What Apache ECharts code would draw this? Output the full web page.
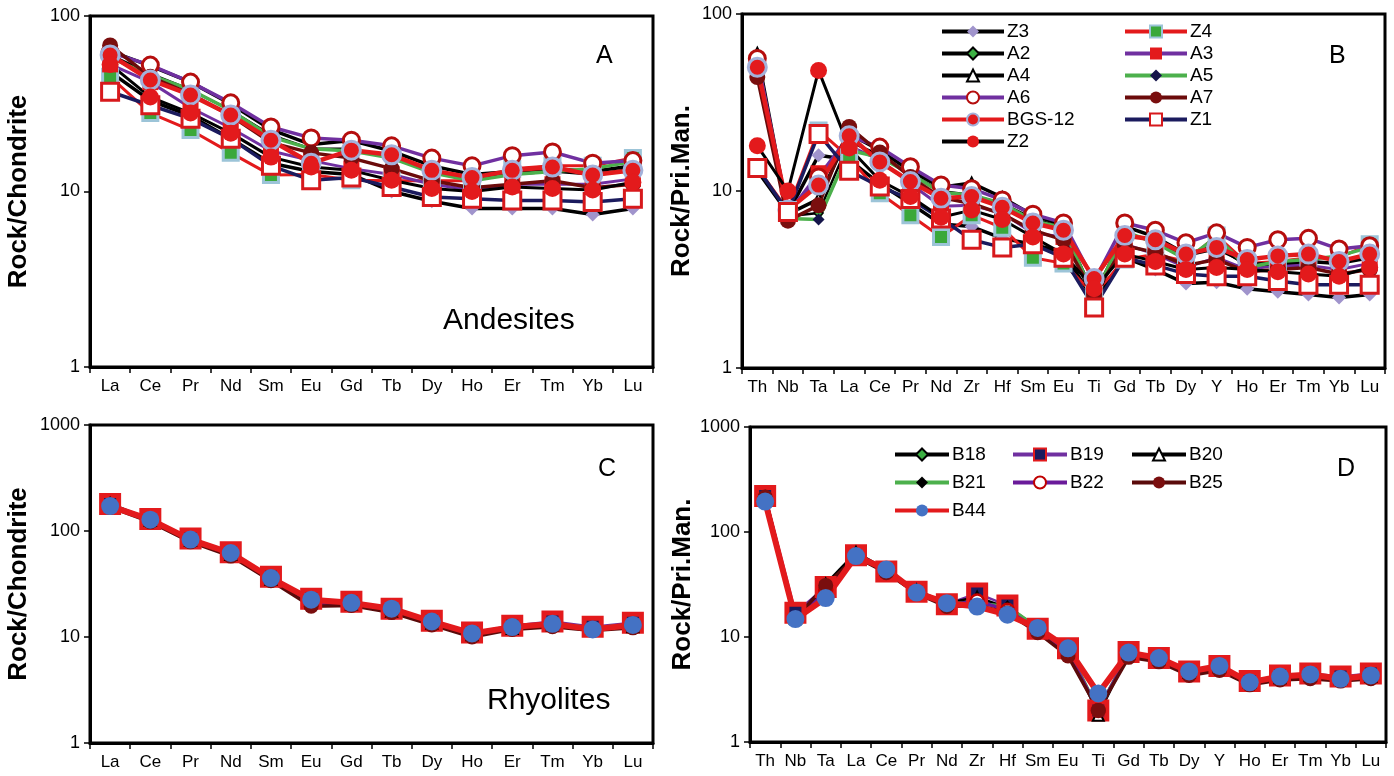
<!DOCTYPE html>
<html>
<head>
<meta charset="utf-8">
<title>REE and spider diagrams</title>
<script src="https://cdn.jsdelivr.net/npm/echarts@6/dist/echarts.min.js"></script>
<style>
    html, body { margin: 0; padding: 0; background: #fff; }
    #chart { width: 1394px; height: 776px; }
</style>
</head>
<body>
<div id="chart"></div>
<script>
// Categories
// ------------------------------

var reeElements = ['La', 'Ce', 'Pr', 'Nd', 'Sm', 'Eu', 'Gd', 'Tb', 'Dy', 'Ho', 'Er', 'Tm', 'Yb', 'Lu'];
var spiderElements = ['Th', 'Nb', 'Ta', 'La', 'Ce', 'Pr', 'Nd', 'Zr', 'Hf', 'Sm', 'Eu', 'Ti', 'Gd', 'Tb', 'Dy', 'Y', 'Ho', 'Er', 'Tm', 'Yb', 'Lu'];

var andesiteNames = ['Z3', 'Z4', 'A2', 'A3', 'A4', 'A5', 'A6', 'A7', 'BGS-12', 'Z1', 'Z2'];
var rhyoliteNames = ['B18', 'B19', 'B20', 'B21', 'B22', 'B25', 'B44'];

var chondriteTicks = [1, 10, 100];
var mantleTicks = [1, 10, 100, 1000];


// Panel A - andesites, chondrite normalised
// ------------------------------

var reeZ3 = [48, 33, 27, 20, 14.5, 13, 12.5, 10, 8.8, 8.0, 8.0, 8.0, 7.4, 8.0];
var reeZ4 = [45, 28, 22.4, 16.6, 12.4, 12.5, 11.6, 11.5, 11.5, 11.5, 13.5, 14, 14, 15.5];
var reeA2 = [60, 47, 38, 29, 21, 17.5, 17.5, 15.5, 13, 12, 12.5, 13, 12.5, 13.5];
var reeA3 = [53, 42, 30, 23, 17, 15, 13.5, 12.5, 11, 10.2, 11, 11, 11, 11.8];
var reeA4 = [63, 52, 42, 31.5, 22.5, 18.5, 19.5, 17, 14, 12.5, 13, 13.5, 13, 14];
var reeA5 = [58, 46, 38, 29, 20.5, 17.5, 17, 15.5, 12.8, 11.5, 12.5, 13, 13.5, 14.8];
var reeA6 = [62, 52.5, 42, 32, 23.3, 20.2, 19.6, 18.2, 15.5, 14, 16, 16.8, 14.5, 15];
var reeA7 = [68, 45, 36, 27, 19, 16.6, 15.5, 13.5, 11.5, 10.5, 11, 11.5, 10.5, 11];
var reeBGS12 = [60, 43.2, 35.5, 27.3, 19.6, 14.5, 17.2, 16.2, 13.2, 12, 13.2, 13.8, 12.4, 13.2];
var reeZ1 = [37, 31, 26, 20, 14, 11.6, 12, 10.6, 9.3, 9.1, 8.9, 8.9, 8.7, 9.1];
var reeZ2 = [53, 34.5, 28, 21.5, 15.7, 13.8, 13.2, 11.6, 10.4, 10, 10.6, 10.4, 10.2, 11.3];

// Panel B - andesites, primitive mantle normalised
// ------------------------------

var pmZ3 = [13, 7.5, 15.9, 15, 11, 8.5, 6.5, 6.3, 5.4, 5.0, 4.5, 2.4, 4.2, 3.6, 3.0, 3.05, 2.8, 2.7, 2.6, 2.5, 2.6];
var pmZ4 = [13.5, 7.8, 22, 15.5, 9.7, 7.3, 5.5, 7.3, 6.2, 4.2, 3.9, 2.6, 4.1, 4.4, 4.0, 5.6, 3.9, 4.0, 4.2, 4.2, 5.0];
var pmA2 = [58, 7.2, 7.5, 19, 16, 12.5, 10, 9.5, 8.5, 7, 6.2, 2.6, 5.8, 5.2, 4.3, 4.7, 3.9, 3.9, 4.0, 3.9, 4.3];
var pmA3 = [52, 7.5, 12.6, 18, 15, 11, 8.2, 8.3, 7.5, 5.8, 5.5, 2.7, 5.0, 4.4, 3.7, 4.2, 3.6, 3.8, 3.8, 3.6, 3.9];
var pmA4 = [60, 7.4, 9, 21, 17, 13, 10.5, 11.1, 9.2, 7.3, 6.4, 2.3, 6.3, 5.5, 4.4, 4.9, 3.8, 3.9, 4.0, 3.9, 4.2];
var pmA5 = [55, 7.0, 6.9, 17, 15.5, 12.5, 9.8, 9.5, 8.5, 6.8, 6.2, 2.5, 5.9, 5.1, 4.1, 5.5, 3.7, 4.0, 4.1, 4.3, 4.8];
var pmA6 = [56, 7.5, 12, 20.5, 17.7, 13.7, 10.8, 10.3, 8.9, 7.4, 6.6, 3.1, 6.6, 6.0, 5.1, 5.8, 4.8, 5.3, 5.4, 4.7, 4.9];
var pmA7 = [44, 6.8, 8.3, 23, 16.5, 12, 9.2, 8.5, 7.4, 6.0, 5.3, 2.6, 4.9, 4.5, 3.8, 4.1, 3.5, 3.6, 3.7, 3.4, 3.6];
var pmBGS12 = [50, 7.8, 10.8, 20.5, 14.6, 11.3, 9.1, 9.3, 8.1, 6.6, 6.0, 3.2, 5.6, 5.3, 4.4, 4.8, 4.1, 4.3, 4.4, 4.0, 4.4];
var pmZ1 = [13.5, 7.6, 21, 13, 10.6, 9, 7, 5.3, 4.8, 5.0, 4.2, 2.2, 4.2, 3.8, 3.4, 3.3, 3.3, 3.1, 2.95, 2.95, 2.95];
var pmZ2 = [18, 10, 48, 17.5, 11.5, 9.3, 7.1, 7.8, 6.9, 5.5, 4.4, 2.8, 4.4, 4.0, 3.6, 3.7, 3.6, 3.5, 3.4, 3.3, 3.7];

// Panel C - rhyolites, chondrite normalised
// ------------------------------

var reeB18 = [178, 128, 84, 62, 37, 22, 21, 18, 13.8, 10.5, 12.2, 13.2, 12, 12.8];
var reeB19 = [180, 130, 85, 63, 37, 23, 21.5, 18.5, 14.2, 11, 12.8, 14, 12.5, 13.6];
var reeB20 = [182, 126, 82, 60, 35, 21, 20.5, 17.5, 13.5, 10.5, 12, 13, 12, 12.5];
var reeB21 = [176, 127, 84, 61, 36, 21.5, 21, 18, 13.8, 10.6, 12.3, 13.2, 12.2, 13];
var reeB22 = [172, 125, 81, 60, 35, 21, 20.5, 17.8, 13.6, 10.4, 12.1, 13.1, 12, 12.8];
var reeB25 = [168, 122, 79, 58, 34, 19.5, 19.8, 17, 13, 10, 11.8, 12.5, 11.5, 12.2];
var reeB44 = [172, 128, 83, 62, 36, 22.5, 21, 18.5, 14, 10.8, 12.4, 13.3, 11.8, 13];

// Panel D - rhyolites, primitive mantle normalised
// ------------------------------

var pmB18 = [210, 16, 28, 62, 43, 27, 21, 22, 19, 12, 7.5, 2.0, 7.0, 6.2, 4.6, 5.2, 3.7, 4.1, 4.3, 4.0, 4.2];
var pmB19 = [220, 17, 30, 60, 42, 27, 20.5, 26, 20, 12, 7.8, 2.0, 7.2, 6.3, 4.7, 5.3, 3.8, 4.3, 4.5, 4.2, 4.5];
var pmB20 = [215, 15, 32, 64, 44, 28, 21, 24, 19, 12.5, 8, 1.8, 7, 6.2, 4.6, 5.2, 3.7, 4.1, 4.3, 4.0, 4.2];
var pmB21 = [205, 15.5, 27, 60, 43, 27, 21, 21, 19.5, 12.2, 7.6, 2.0, 7.0, 6.2, 4.6, 5.2, 3.7, 4.1, 4.3, 4.0, 4.2];
var pmB22 = [210, 15, 28, 58, 42, 26, 20, 22, 18, 11.8, 7.2, 2.0, 6.8, 6.0, 4.4, 5.0, 3.6, 4.0, 4.2, 3.9, 4.1];
var pmB25 = [215, 15, 31, 58, 41, 26, 19.5, 20, 17, 11, 6.6, 2.0, 6.4, 5.8, 4.3, 4.8, 3.5, 3.9, 4.0, 3.8, 4.0];
var pmB44 = [195, 14.8, 23.5, 59, 44, 26.5, 21, 19.5, 16.3, 12.2, 7.8, 2.9, 7.1, 6.3, 4.7, 5.3, 3.7, 4.2, 4.4, 4.0, 4.3];


// Setup module
// ------------------------------

var SpiderPlots = function() {

    var FONT = '"Liberation Sans", Arial, sans-serif';

    // Line / marker styles for each sample
    var andesiteStyle = {
        'Z3':     { line: '#000000', width: 3.5, symbol: 'diamond', size: 14, fill: '#a094cc', border: '#a094cc', bw: 0 },
        'Z4':     { line: '#e31a1c', width: 3, symbol: 'rect', size: 15, fill: '#3aa83a', border: '#9cc4d8', bw: 3 },
        'A2':     { line: '#000000', width: 2.5, symbol: 'diamond', size: 9, fill: '#3cb043', border: '#000000', bw: 1.5 },
        'A3':     { line: '#7030a0', width: 3, symbol: 'rect', size: 16, fill: '#e31a1c', border: '#e31a1c', bw: 0 },
        'A4':     { line: '#000000', width: 3.5, symbol: 'triangle', size: 11, fill: '#ffffff', border: '#000000', bw: 2 },
        'A5':     { line: '#4cb04c', width: 3.5, symbol: 'diamond', size: 12, fill: '#15154a', border: '#15154a', bw: 0 },
        'A6':     { line: '#7030a0', width: 3.5, symbol: 'circle', size: 16, fill: '#ffffff', border: '#b50d0d', bw: 3 },
        'A7':     { line: '#6b0b0b', width: 3.5, symbol: 'circle', size: 16, fill: '#7a0e0e', border: '#7a0e0e', bw: 0 },
        'BGS-12': { line: '#e31a1c', width: 4.5, symbol: 'circle', size: 18, fill: '#e31a1c', border: '#a3b1da', bw: 3 },
        'Z1':     { line: '#1b1b5e', width: 3.5, symbol: 'rect', size: 17, fill: '#ffffff', border: '#d7191c', bw: 3 },
        'Z2':     { line: '#000000', width: 3, symbol: 'circle', size: 17, fill: '#e31a1c', border: '#e31a1c', bw: 0 }
    };

    var rhyoliteStyle = {
        'B18': { line: '#000000', width: 2.5, symbol: 'diamond', size: 9, fill: '#3cb043', border: '#000000', bw: 1.5 },
        'B19': { line: '#7030a0', width: 2.5, symbol: 'rect', size: 17, fill: '#1b1b5e', border: '#e31a1c', bw: 5 },
        'B20': { line: '#000000', width: 2.5, symbol: 'triangle', size: 11, fill: '#ffffff', border: '#000000', bw: 2 },
        'B21': { line: '#4cb04c', width: 3.5, symbol: 'diamond', size: 12, fill: '#000000', border: '#000000', bw: 0 },
        'B22': { line: '#6a1b9a', width: 3.5, symbol: 'circle', size: 13, fill: '#ffffff', border: '#c00000', bw: 2.5 },
        'B25': { line: '#5a0a0a', width: 3.5, symbol: 'circle', size: 15, fill: '#7a0e0e', border: '#7a0e0e', bw: 0 },
        'B44': { line: '#e31a1c', width: 6, symbol: 'circle', size: 18, fill: '#4472c4', border: '#4472c4', bw: 0 }
    };

    var andesiteRee = [reeZ3, reeZ4, reeA2, reeA3, reeA4, reeA5, reeA6, reeA7, reeBGS12, reeZ1, reeZ2];
    var andesitePm = [pmZ3, pmZ4, pmA2, pmA3, pmA4, pmA5, pmA6, pmA7, pmBGS12, pmZ1, pmZ2];
    var rhyoliteRee = [reeB18, reeB19, reeB20, reeB21, reeB22, reeB25, reeB44];
    var rhyolitePm = [pmB18, pmB19, pmB20, pmB21, pmB22, pmB25, pmB44];

    // One line series on a given grid
    var makeSeries = function(name, data, st, gridIndex) {
        return {
            name: name,
            type: 'line',
            xAxisIndex: gridIndex,
            yAxisIndex: gridIndex,
            data: data,
            symbol: st.symbol,
            symbolSize: st.size,
            showAllSymbol: true,
            lineStyle: { color: st.line, width: st.width },
            itemStyle: { color: st.fill, borderColor: st.border, borderWidth: st.bw },
            emphasis: { disabled: true },
            silent: true
        };
    };

    var makeXAxis = function(gridIndex, cats) {
        return {
            gridIndex: gridIndex,
            type: 'category',
            data: cats,
            boundaryGap: true,
            axisLine: { lineStyle: { color: '#000', width: 3 } },
            axisTick: { show: true, interval: 0, length: 6, lineStyle: { color: '#000', width: 1.5 } },
            axisLabel: { interval: 0, color: '#000', fontSize: 17, fontFamily: FONT, margin: 11 },
            splitLine: { show: false }
        };
    };

    var makeYAxis = function(gridIndex, maxVal, name, gap) {
        return {
            gridIndex: gridIndex,
            type: 'log',
            logBase: 10,
            min: 1,
            max: maxVal,
            name: name,
            nameLocation: 'middle',
            nameGap: gap,
            nameTextStyle: { color: '#000', fontSize: 26, fontWeight: 'bold', fontFamily: FONT },
            axisLine: { show: true, lineStyle: { color: '#000', width: 3 } },
            axisTick: { show: true, length: 6, lineStyle: { color: '#000', width: 1.5 } },
            axisLabel: {
                color: '#000', fontSize: 18, fontFamily: FONT, margin: 10,
                formatter: function(v) { return String(v); }
            },
            splitLine: { show: false }
        };
    };

    var gridBox = function(left, top, width, height) {
        return {
            left: left, top: top, width: width, height: height,
            containLabel: false,
            outerBoundsMode: 'none',
            show: true,
            borderColor: '#000',
            borderWidth: 3,
            backgroundColor: '#fff'
        };
    };

    var legendColumn = function(names, left, top, gap, w) {
        return {
            orient: 'vertical',
            left: left,
            top: top,
            padding: 0,
            itemGap: gap,
            itemWidth: w,
            itemHeight: 15,
            selectedMode: false,
            data: names,
            lineStyle: { width: 4 },
            textStyle: { color: '#000', fontSize: 19, fontFamily: FONT, padding: [0, 0, 0, -2] }
        };
    };

    var panelText = function(text, x, y, size) {
        return {
            type: 'text',
            left: x,
            top: y,
            silent: true,
            style: { text: text, fill: '#000', font: 'normal ' + size + 'px ' + FONT }
        };
    };

    var _init = function() {
        if (typeof echarts == 'undefined') {
            console.warn('Warning - echarts.min.js is not loaded.');
            return;
        }

        var chart_element = document.getElementById('chart');
        var chart = echarts.init(chart_element, null, { renderer: 'canvas' });

        var series = [];
        andesiteNames.forEach(function(name, i) {
            series.push(makeSeries(name, andesiteRee[i], andesiteStyle[name], 0));
        });
        andesiteNames.forEach(function(name, i) {
            series.push(makeSeries(name, andesitePm[i], andesiteStyle[name], 1));
        });
        rhyoliteNames.forEach(function(name, i) {
            series.push(makeSeries(name, rhyoliteRee[i], rhyoliteStyle[name], 2));
        });
        rhyoliteNames.forEach(function(name, i) {
            series.push(makeSeries(name, rhyolitePm[i], rhyoliteStyle[name], 3));
        });

        chart.setOption({
            animation: false,
            textStyle: { fontFamily: FONT },

            grid: [
                gridBox(90, 16, 563, 351),
                gridBox(742, 14, 643, 354),
                gridBox(90, 425, 563, 318),
                gridBox(750, 427, 636, 315)
            ],

            xAxis: [
                makeXAxis(0, reeElements),
                makeXAxis(1, spiderElements),
                makeXAxis(2, reeElements),
                makeXAxis(3, spiderElements)
            ],

            yAxis: [
                makeYAxis(0, chondriteTicks[chondriteTicks.length - 1], 'Rock/Chondrite', 58),
                makeYAxis(1, chondriteTicks[chondriteTicks.length - 1], 'Rock/Pri.Man.', 47),
                makeYAxis(2, mantleTicks[mantleTicks.length - 1], 'Rock/Chondrite', 58),
                makeYAxis(3, mantleTicks[mantleTicks.length - 1], 'Rock/Pri.Man.', 50)
            ],

            legend: [
                legendColumn(['Z3', 'A2', 'A4', 'A6', 'BGS-12', 'Z2'], 940, 22, 3, 62),
                legendColumn(['Z4', 'A3', 'A5', 'A7', 'Z1'], 1123, 22, 3, 62),
                legendColumn(['B18', 'B21', 'B44'], 893, 445, 9, 54),
                legendColumn(['B19', 'B22'], 1011, 445, 9, 54),
                legendColumn(['B20', 'B25'], 1130, 445, 9, 54)
            ],

            graphic: [
                panelText('A', 596, 44, 25),
                panelText('Andesites', 443, 306, 30),
                panelText('B', 1329, 44, 25),
                panelText('C', 598, 457, 25),
                panelText('Rhyolites', 487, 686, 30),
                panelText('D', 1337, 457, 25)
            ],

            series: series
        });

        window.addEventListener('resize', function() {
            chart.resize();
        });
    };

    return {
        init: function() {
            _init();
        }
    };
}();

document.addEventListener('DOMContentLoaded', function() {
    SpiderPlots.init();
});
</script>
</body>
</html>
